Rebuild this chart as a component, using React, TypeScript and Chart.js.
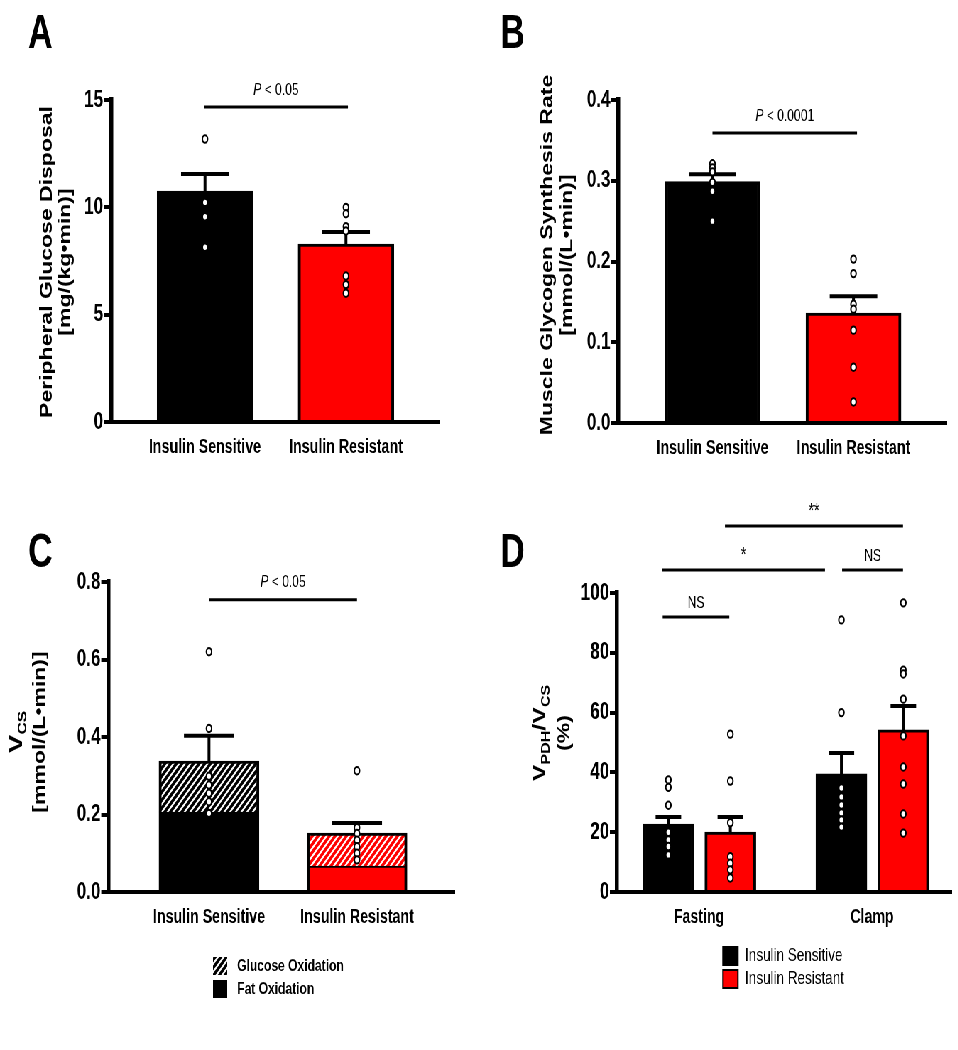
import React, { useEffect, useRef } from 'react';
import { Chart, registerables } from 'chart.js';

Chart.register(...registerables);

// ================= DATA =================
const groupLabels = ['Insulin Sensitive', 'Insulin Resistant'];

// Panel A – peripheral glucose disposal
const aYTicks = [0, 5, 10, 15];
const aMeans = [10.76, 8.29];
const aSem = [0.79, 0.56];
const aPointsIS = [13.18, 10.23, 9.56, 8.14];
const aPointsIR = [10.0, 9.7, 9.1, 8.9, 6.8, 6.4, 6.0];
const aSigLabel = 'P < 0.05';

// Panel B – muscle glycogen synthesis rate
const bYTicks = [0, 0.1, 0.2, 0.3, 0.4];
const bMeans = [0.299, 0.136];
const bSem = [0.009, 0.021];
const bPointsIS = [0.321, 0.316, 0.311, 0.298, 0.287, 0.25];
const bPointsIR = [0.203, 0.185, 0.147, 0.141, 0.115, 0.069, 0.026];
const bSigLabel = 'P < 0.0001';

// Panel C – VCS (fat + glucose oxidation)
const cYTicks = [0, 0.2, 0.4, 0.6, 0.8];
const cSeriesLabels = ['Fat Oxidation', 'Glucose Oxidation'];
const cFatOx = [0.206, 0.067];
const cGlucoseOx = [0.132, 0.085];
const cSem = [0.065, 0.026];
const cPointsIS = [0.62, 0.422, 0.299, 0.276, 0.255, 0.233, 0.203];
const cPointsIR = [0.313, 0.166, 0.151, 0.134, 0.117, 0.1, 0.083];
const cSigLabel = 'P < 0.05';

// Panel D – VPDH/VCS (%)
const dConditions = ['Fasting', 'Clamp'];
const dYTicks = [0, 20, 40, 60, 80, 100];
const dMeansIS = [22.7, 39.5];
const dSemIS = [2.4, 7.0];
const dMeansIR = [20.0, 54.2];
const dSemIR = [5.1, 8.0];
const dPointsIS = [
  [37.5, 35, 29, 20, 17.4, 15.2, 12.4],
  [91, 60, 34.8, 31.8, 29.1, 26.4, 24.1, 21.7],
];
const dPointsIR = [
  [52.8, 37.1, 23.2, 11.8, 9.6, 7.4, 4.7],
  [96.7, 74.2, 72.9, 64.5, 52.2, 41.8, 36.1, 26.1, 19.7],
];
const dSigX1 = [-0.21, -0.214, 0.827, 0.15];
const dSigX2 = [0.175, 0.728, 1.179, 1.179];
const dSigY = [92, 107.7, 107.7, 122.4];
const dSigLabels = ['NS', '*', 'NS', '**'];

// ================= STYLE / LAYOUT =================
const S = 0.71; // horizontal squeeze of the original figure
const PANEL_W = 675;
const FONT = '"Liberation Sans", Arial, Helvetica, sans-serif';
const BLACK = '#000000';
const RED = '#ff0000';
const D_OFFSET = [-0.177, 0.181];

const pointStyle = {
  pointRadius: 3.7,
  pointHoverRadius: 3.7,
  pointBorderWidth: 2,
  pointBackgroundColor: '#ffffff',
  pointBorderColor: '#000000',
  showLine: false,
};
const barBorder = { top: 3, left: 4, right: 4, bottom: 0 };

type Part = { t: string; size: number; dv?: number; italic?: boolean; bold?: boolean };

function drawParts(ctx: any, x: number, y: number, parts: Part[], baseline: string, rotate: boolean) {
  ctx.save();
  ctx.translate(x, y);
  if (rotate) ctx.rotate(-Math.PI / 2);
  const fontOf = (p: Part) => `${p.italic ? 'italic ' : ''}${p.bold ? 'bold ' : ''}${p.size}px ${FONT}`;
  let total = 0;
  for (const p of parts) {
    ctx.font = fontOf(p);
    total += ctx.measureText(p.t).width;
  }
  let u = -total / 2;
  ctx.fillStyle = '#000';
  ctx.textAlign = 'left';
  ctx.textBaseline = baseline;
  for (const p of parts) {
    ctx.font = fontOf(p);
    ctx.fillText(p.t, u, p.dv || 0);
    u += ctx.measureText(p.t).width;
  }
  ctx.restore();
}

function makeHatch(ctxTarget: any, bg: string) {
  const c = document.createElement('canvas');
  c.width = 8;
  c.height = 8;
  const g = c.getContext('2d') as any;
  g.fillStyle = bg;
  g.fillRect(0, 0, 8, 8);
  g.strokeStyle = '#ffffff';
  g.lineWidth = 2.2;
  g.beginPath();
  g.moveTo(-2, 10); g.lineTo(10, -2);
  g.moveTo(-2, 2); g.lineTo(2, -2);
  g.moveTo(6, 10); g.lineTo(10, 6);
  g.stroke();
  return ctxTarget.createPattern(c, 'repeat');
}

function makeChart(canvas: HTMLCanvasElement, sp: any) {
  const deco = {
    id: 'deco',
    afterDatasetDraw(chart: any, args: any) {
      const ctx = chart.ctx;
      const ys = chart.scales.y;
      for (const e of sp.errors) {
        if (e.datasetIndex !== args.index) continue;
        const meta = chart.getDatasetMeta(e.datasetIndex);
        ctx.save();
        ctx.strokeStyle = '#000';
        ctx.lineWidth = 4;
        meta.data.forEach((bar: any, i: number) => {
          const yBase = ys.getPixelForValue(e.means[i]);
          const yTop = ys.getPixelForValue(e.means[i] + e.sems[i]);
          const half = bar.width / 4;
          ctx.beginPath();
          ctx.moveTo(bar.x, yBase);
          ctx.lineTo(bar.x, yTop);
          ctx.moveTo(bar.x - half, yTop);
          ctx.lineTo(bar.x + half, yTop);
          ctx.stroke();
        });
        ctx.restore();
      }
    },
    afterDraw(chart: any) {
      const ctx = chart.ctx;
      const xs = chart.scales.x;
      const ys = chart.scales.y;
      // panel letter
      ctx.save();
      ctx.fillStyle = '#000';
      ctx.font = `bold 48px ${FONT}`;
      ctx.textAlign = 'left';
      ctx.textBaseline = 'alphabetic';
      ctx.fillText(sp.letter.t, sp.letter.x, sp.letter.y);
      ctx.restore();
      // y title
      for (const line of sp.yTitle.lines) {
        drawParts(ctx, line.x, sp.yTitle.cy, line.parts, line.baseline, true);
      }
      // significance bars
      for (const sg of sp.sigs) {
        const x1 = xs.getPixelForValue(sg.x1);
        const x2 = xs.getPixelForValue(sg.x2);
        const y = ys.getPixelForValue(sg.y);
        ctx.save();
        ctx.strokeStyle = '#000';
        ctx.lineWidth = 3;
        ctx.beginPath();
        ctx.moveTo(x1, y);
        ctx.lineTo(x2, y);
        ctx.stroke();
        ctx.restore();
        const isStar = /^\*+$/.test(sg.label);
        const size = isStar ? sp.sigSize + 3 : sp.sigSize;
        const parts: Part[] = sg.label.startsWith('P ')
          ? [{ t: 'P', size, italic: true }, { t: sg.label.slice(1), size }]
          : [{ t: sg.label, size }];
        drawParts(ctx, (x1 + x2) / 2, y - sp.sigGap, parts, 'alphabetic', false);
      }
      // legend
      if (sp.legend) {
        const L = sp.legend;
        L.datasetIndices.forEach((di: number, k: number) => {
          const ds = chart.data.datasets[di];
          const fill = Array.isArray(ds.backgroundColor) ? ds.backgroundColor[0] : ds.backgroundColor;
          ctx.save();
          ctx.fillStyle = fill;
          ctx.fillRect(L.boxX, L.tops[k], L.boxW, L.boxH);
          if (L.stroke) {
            ctx.strokeStyle = '#000';
            ctx.lineWidth = 2;
            ctx.strokeRect(L.boxX, L.tops[k], L.boxW, L.boxH);
          }
          ctx.fillStyle = '#000';
          ctx.font = L.font;
          ctx.textAlign = 'left';
          ctx.textBaseline = 'middle';
          ctx.fillText(ds.label, L.labelX, L.tops[k] + L.boxH / 2);
          ctx.restore();
        });
      }
    },
  };

  return new Chart(canvas, {
    type: 'bar',
    data: { datasets: sp.datasets },
    options: {
      responsive: false,
      animation: false,
      devicePixelRatio: 1,
      events: [],
      layout: { padding: { left: 0, top: sp.area.top, right: sp.W - sp.area.right, bottom: 0 } },
      plugins: { legend: { display: false }, tooltip: { enabled: false }, title: { display: false } },
      scales: {
        x: {
          type: 'linear',
          min: sp.xMin,
          max: sp.xMax,
          offset: false,
          stacked: !!sp.stacked,
          afterFit: (s: any) => { s.height = sp.H - sp.area.bottom; },
          afterBuildTicks: (s: any) => { s.ticks = sp.xLabels.map((_: string, i: number) => ({ value: i })); },
          ticks: {
            callback: (_v: any, i: number) => sp.xLabels[i],
            font: { family: FONT, size: 20, weight: 'bold' },
            color: '#000',
            padding: 5,
            maxRotation: 0,
            autoSkip: false,
          },
          grid: { display: false },
          border: { display: true, color: '#000', width: 4 },
        },
        y: {
          type: 'linear',
          min: 0,
          max: sp.yMax,
          stacked: !!sp.stacked,
          afterFit: (s: any) => { s.width = sp.area.left; },
          afterBuildTicks: (s: any) => { s.ticks = sp.yTicks.map((v: number) => ({ value: v })); },
          ticks: {
            callback: (v: any) => Number(v).toFixed(sp.yDecimals),
            font: { family: FONT, size: 24, weight: 'bold' },
            color: '#000',
            padding: 1,
            autoSkip: false,
          },
          grid: { display: true, drawOnChartArea: false, drawTicks: true, tickLength: 10, lineWidth: 4, color: '#000' },
          border: { display: true, color: '#000', width: 5.5 },
        },
      },
    },
    plugins: [deco],
  } as any);
}

function buildSpecs(hatchBlack: any, hatchRed: any) {
  const titleLine = (x: number, t: string) => ({ x, baseline: 'middle', parts: [{ t, size: 23, bold: true }] });

  const specA = {
    W: PANEL_W, H: 480,
    area: { left: 156.3, right: 619.7, top: 100, bottom: 422 },
    xMin: -0.667, xMax: 1.667, xLabels: groupLabels,
    yMax: 15, yTicks: aYTicks, yDecimals: 0,
    datasets: [
      {
        type: 'bar', label: 'Mean',
        data: groupLabels.map((_, i) => ({ x: i, y: aMeans[i] })),
        backgroundColor: [BLACK, RED], borderColor: BLACK, borderWidth: barBorder,
        barThickness: 135, order: 2,
      },
      {
        type: 'scatter', label: 'Individual',
        data: [...aPointsIS.map((y) => ({ x: 0, y })), ...aPointsIR.map((y) => ({ x: 1, y }))],
        ...pointStyle, order: 1,
      },
    ],
    errors: [{ datasetIndex: 0, means: aMeans, sems: aSem }],
    sigs: [{ x1: -0.007, x2: 1.014, y: 14.67, label: aSigLabel }],
    sigGap: 12, sigSize: 17,
    letter: { t: 'A', x: 39.4, y: 48 },
    yTitle: { cy: 262, lines: [titleLine(66.2, 'Peripheral Glucose Disposal'), titleLine(93, '[mg/(kg•min)]')] },
  };

  const specB = {
    W: PANEL_W, H: 480,
    area: { left: 195.8, right: 658.8, top: 100, bottom: 423 },
    xMin: -0.668, xMax: 1.663, xLabels: groupLabels,
    yMax: 0.4, yTicks: bYTicks, yDecimals: 1,
    datasets: [
      {
        type: 'bar', label: 'Mean',
        data: groupLabels.map((_, i) => ({ x: i, y: bMeans[i] })),
        backgroundColor: [BLACK, RED], borderColor: BLACK, borderWidth: barBorder,
        barThickness: 134, order: 2,
      },
      {
        type: 'scatter', label: 'Individual',
        data: [...bPointsIS.map((y) => ({ x: 0, y })), ...bPointsIR.map((y) => ({ x: 1, y }))],
        ...pointStyle, order: 1,
      },
    ],
    errors: [{ datasetIndex: 0, means: bMeans, sems: bSem }],
    sigs: [{ x1: 0, x2: 1.025, y: 0.359, label: bSigLabel }],
    sigGap: 12, sigSize: 17,
    letter: { t: 'B', x: 29.6, y: 48 },
    yTitle: { cy: 255, lines: [titleLine(96.8, 'Muscle Glycogen Synthesis Rate'), titleLine(125, '[mmol/(L•min)]')] },
  };

  const cTotals = cFatOx.map((f, i) => f + cGlucoseOx[i]);
  const specC = {
    W: PANEL_W, H: 570,
    area: { left: 152.6, right: 640.8, top: 102, bottom: 412 },
    xMin: -0.68, xMax: 1.662, xLabels: groupLabels, stacked: true,
    yMax: 0.8, yTicks: cYTicks, yDecimals: 1,
    datasets: [
      {
        type: 'bar', label: cSeriesLabels[0],
        data: groupLabels.map((_, i) => ({ x: i, y: cFatOx[i] })),
        backgroundColor: [BLACK, RED], borderColor: BLACK, borderWidth: { top: 2, left: 4, right: 4, bottom: 0 },
        barThickness: 141, order: 2,
      },
      {
        type: 'bar', label: cSeriesLabels[1],
        data: groupLabels.map((_, i) => ({ x: i, y: cGlucoseOx[i] })),
        backgroundColor: [hatchBlack, hatchRed], borderColor: BLACK, borderWidth: barBorder,
        barThickness: 141, order: 3,
      },
      {
        type: 'scatter', label: 'Individual', stack: 'points',
        data: [...cPointsIS.map((y) => ({ x: 0, y })), ...cPointsIR.map((y) => ({ x: 1, y }))],
        ...pointStyle, order: 1,
      },
    ],
    errors: [{ datasetIndex: 1, means: cTotals, sems: cSem }],
    sigs: [{ x1: 0, x2: 1.0, y: 0.754, label: cSigLabel }],
    sigGap: 13, sigSize: 17,
    letter: { t: 'C', x: 39.4, y: 87 },
    yTitle: {
      cy: 252,
      lines: [
        { x: 31, baseline: 'alphabetic', parts: [{ t: 'V', size: 28, bold: true }, { t: 'CS', size: 17, bold: true, dv: 6 }] },
        titleLine(56.3, '[mmol/(L•min)]'),
      ],
    },
    legend: {
      datasetIndices: [1, 0], boxX: 300, boxW: 20, boxH: 18, tops: [477, 500], labelX: 334,
      font: `bold 17px ${FONT}`, stroke: false,
    },
  };

  const dSigs = dSigLabels.map((label, i) => ({ x1: dSigX1[i], x2: dSigX2[i], y: dSigY[i], label }));
  const specD = {
    W: PANEL_W, H: 570,
    area: { left: 194, right: 665.8, top: 113, bottom: 412 },
    xMin: -0.474, xMax: 1.462, xLabels: dConditions,
    yMax: 100, yTicks: dYTicks, yDecimals: 0,
    datasets: [
      {
        type: 'bar', label: groupLabels[0], grouped: false,
        data: dConditions.map((_, g) => ({ x: g + D_OFFSET[0], y: dMeansIS[g] })),
        backgroundColor: BLACK, borderColor: BLACK, borderWidth: barBorder,
        barThickness: 72, order: 3,
      },
      {
        type: 'bar', label: groupLabels[1], grouped: false,
        data: dConditions.map((_, g) => ({ x: g + D_OFFSET[1], y: dMeansIR[g] })),
        backgroundColor: RED, borderColor: BLACK, borderWidth: barBorder,
        barThickness: 72, order: 2,
      },
      {
        type: 'scatter', label: 'IS points',
        data: dPointsIS.flatMap((arr, g) => arr.map((y) => ({ x: g + D_OFFSET[0], y }))),
        ...pointStyle, order: 1,
      },
      {
        type: 'scatter', label: 'IR points',
        data: dPointsIR.flatMap((arr, g) => arr.map((y) => ({ x: g + D_OFFSET[1], y }))),
        ...pointStyle, order: 1,
      },
    ],
    errors: [
      { datasetIndex: 0, means: dMeansIS, sems: dSemIS },
      { datasetIndex: 1, means: dMeansIR, sems: dSemIR },
    ],
    sigs: dSigs,
    sigGap: 9, sigSize: 17,
    letter: { t: 'D', x: 29.6, y: 87 },
    yTitle: {
      cy: 253,
      lines: [
        {
          x: 92.6, baseline: 'alphabetic',
          parts: [
            { t: 'V', size: 25, bold: true },
            { t: 'PDH', size: 16, bold: true, dv: 6 },
            { t: '/', size: 25, bold: true },
            { t: 'V', size: 25, bold: true },
            { t: 'CS', size: 16, bold: true, dv: 6 },
          ],
        },
        titleLine(120.8, '(%)'),
      ],
    },
    legend: {
      datasetIndices: [0, 1], boxX: 343.3, boxW: 21, boxH: 18, tops: [467, 490], labelX: 374.3,
      font: `19px ${FONT}`, stroke: true,
    },
  };

  return [specA, specB, specC, specD];
}

const PANELS = [
  { left: 0, top: 0, h: 480 },
  { left: PANEL_W, top: 0, h: 480 },
  { left: 0, top: 480, h: 570 },
  { left: PANEL_W, top: 480, h: 570 },
];

export default function App() {
  const canvases = useRef<(HTMLCanvasElement | null)[]>([]);

  useEffect(() => {
    const cCtx = (canvases.current[2] as HTMLCanvasElement).getContext('2d');
    const hatchBlack = makeHatch(cCtx, BLACK);
    const hatchRed = makeHatch(cCtx, RED);
    const specs = buildSpecs(hatchBlack, hatchRed);
    const charts = specs.map((sp, i) => makeChart(canvases.current[i] as HTMLCanvasElement, sp));
    return () => charts.forEach((c) => c.destroy());
  }, []);

  const logicalW = Math.ceil(958 / S);
  return (
    <div style={{ position: 'absolute', left: 0, top: 0, width: 958, height: 1050, overflow: 'hidden', background: '#fff' }}>
      <div
        style={{
          position: 'absolute', left: 0, top: 0, width: logicalW, height: 1050,
          transform: `scaleX(${S})`, transformOrigin: '0 0',
        }}
      >
        {PANELS.map((p, i) => (
          <canvas
            key={i}
            ref={(el) => { canvases.current[i] = el; }}
            width={PANEL_W}
            height={p.h}
            style={{ position: 'absolute', left: p.left, top: p.top, width: PANEL_W, height: p.h }}
          />
        ))}
      </div>
    </div>
  );
}
